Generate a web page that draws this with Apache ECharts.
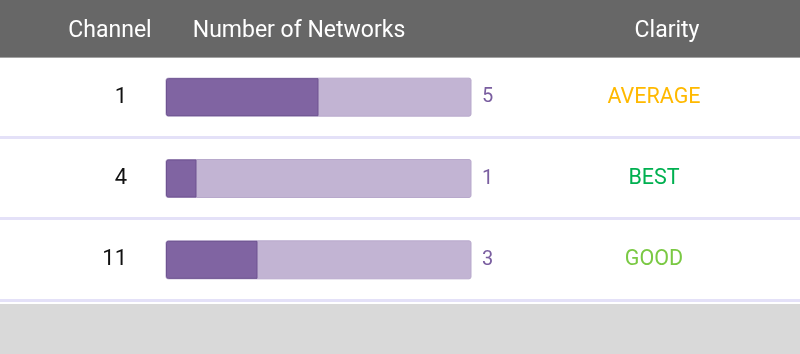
<!DOCTYPE html>
<html>
<head>
<meta charset="utf-8">
<script src="https://cdn.jsdelivr.net/npm/echarts@6/dist/echarts.min.js"></script>
<style>
  html, body { margin: 0; padding: 0; background: #fff; }
  #chart { width: 800px; height: 354px; }
</style>
</head>
<body>
<div id="chart"></div>
<script>
const channels = ['1', '4', '11'];
const networks = [5, 1, 3];
const clarity = ['AVERAGE', 'BEST', 'GOOD'];
const clarityColors = ['#ffb900', '#00b050', '#7ac943'];
const maxNetworks = 10;

const chart = echarts.init(document.getElementById('chart'), null, { renderer: 'canvas' });

const font = 'Roboto';

// row separators (table styling, not data)
const sepY = [136, 217, 299];
const separators = sepY.map(y => ({
  type: 'rect', shape: { x: 0, y: y, width: 800, height: 3 }, style: { fill: '#e4e1f8' }, z: 9
}));

chart.setOption({
  backgroundColor: '#ffffff',
  animation: false,
  grid: { left: 166, right: 329, top: 56.5, bottom: 53.5 },
  xAxis: { type: 'value', min: 0, max: maxNetworks, show: false },
  yAxis: [
    {
      type: 'category', data: channels, inverse: true, position: 'left',
      axisLine: { show: false }, axisTick: { show: false }, splitLine: { show: false },
      axisLabel: { margin: 39, fontSize: 22, color: '#111', fontFamily: font }
    },
    {
      type: 'category', data: networks.map(String), inverse: true, position: 'right',
      axisLine: { show: false }, axisTick: { show: false },
      axisLabel: { margin: 11, fontSize: 20, color: '#7a5ea0', fontFamily: font, align: 'left' }
    },
    {
      type: 'category', data: clarity, inverse: true, position: 'right', offset: 183,
      axisLine: { show: false }, axisTick: { show: false },
      axisLabel: {
        margin: 0, fontSize: 21.5, fontFamily: font, align: 'center',
        color: (v, i) => clarityColors[i]
      }
    }
  ],
  series: [
    {
      type: 'bar', data: networks, barWidth: 38, yAxisIndex: 0,
      showBackground: true,
      backgroundStyle: { color: '#c2b4d3', borderColor: '#b8a9cc', borderWidth: 1, borderRadius: 2 },
      itemStyle: { color: '#8064a2', borderColor: '#6e5391', borderWidth: 1, borderRadius: [2, 0, 0, 2] }
    }
  ],
  graphic: separators.concat([
    { type: 'rect', shape: { x: 0, y: 0, width: 800, height: 57 }, style: { fill: '#676767' }, z: 10 },
    { type: 'rect', shape: { x: 0, y: 57, width: 800, height: 1 }, style: { fill: '#a3a3a3' }, z: 10 },
    { type: 'rect', shape: { x: 0, y: 304, width: 800, height: 50 }, style: { fill: '#d9d9d9' }, z: 10 },
    { type: 'text', x: 110, y: 31, z: 11, style: { text: 'Channel', fill: '#fff', font: '23px Roboto', align: 'center', verticalAlign: 'middle' } },
    { type: 'text', x: 299, y: 31, z: 11, style: { text: 'Number of Networks', fill: '#fff', font: '23px Roboto', align: 'center', verticalAlign: 'middle' } },
    { type: 'text', x: 667, y: 31, z: 11, style: { text: 'Clarity', fill: '#fff', font: '23px Roboto', align: 'center', verticalAlign: 'middle' } }
  ])
});
</script>
</body>
</html>
